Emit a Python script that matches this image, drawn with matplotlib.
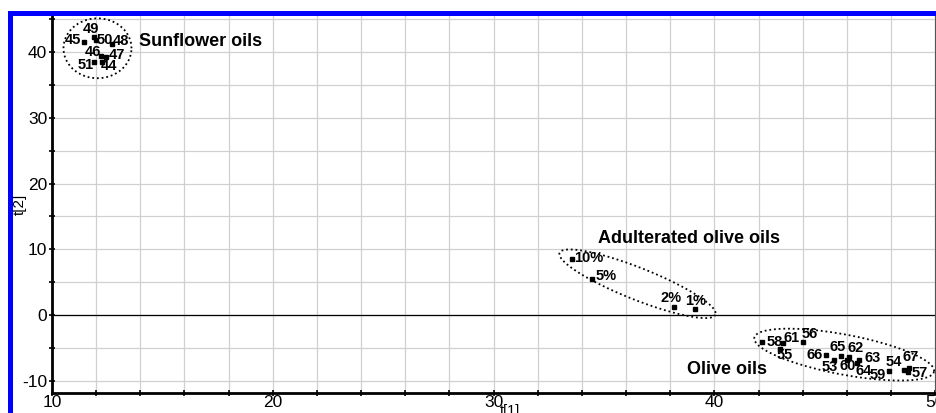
import numpy as np
import matplotlib.pyplot as plt
from matplotlib.ticker import MultipleLocator
from matplotlib.patches import Rectangle

plt.rcParams['font.family'] = ['Liberation Sans', 'DejaVu Sans']
plt.rcParams['axes.unicode_minus'] = False

# ---------------------------------------------
# PCA scores t[1], t[2]
sun_ids = ['49', '45', '50', '48', '46', '47', '51', '44']
sun_t1 = [11.9, 11.45, 12.0, 12.7, 12.2, 12.45, 11.9, 12.26]
sun_t2 = [42.3, 41.5, 41.8, 41.2, 39.4, 39.2, 38.5, 38.5]

adu_ids = ['10%', '5%', '2%', '1%']
adu_t1 = [33.53, 34.48, 38.19, 39.14]
adu_t2 = [8.54, 5.5, 1.24, 0.94]

oli_ids = ['58', '61', '56', '55', '66', '65', '62', '63', '53', '60', '64',
           '59', '54', '67', '57']
oli_t1 = [42.17, 43.12, 44.03, 42.99, 45.07, 45.75, 46.11, 46.56, 45.43,
          46.02, 46.47, 47.92, 48.6, 48.82, 48.78]
oli_t2 = [-4.07, -4.22, -4.07, -5.14, -6.05, -6.2, -6.35, -6.8, -6.8,
          -6.8, -7.4, -8.48, -8.33, -8.02, -8.63]

# label offsets (pixels) for the sample numbers
sun_off = [(-3, 8), (-11, 2), (9, 0), (9, 3), (-8, 4), (11, 2), (-8, -3), (7, -4)]
adu_off = [(17, 1), (14, 3), (-3, 9), (0, 8)]
oli_off = [(12, 0), (8, 5), (6, 8), (4, -6), (-12, 0), (-4, 9), (6, 9), (13, 2),
           (-5, -7), (0, -6), (6, -8), (-11, -4), (-10, 8), (2, 11), (12, -1)]


# ---------------------------------------------
def ellipse(ax, c, u, v):
    """ellipse c + u cos t + v sin t (data coords)"""
    t = np.linspace(0, 2 * np.pi, 200)
    x = c[0] + u[0] * np.cos(t) + v[0] * np.sin(t)
    y = c[1] + u[1] * np.cos(t) + v[1] * np.sin(t)
    ax.plot(x, y, color='black', lw=1.3, ls=(0, (1, 1.6)))


def group(ax, xs, ys, ids, offs):
    ax.plot(xs, ys, 's', color='black', ms=2.3)
    for x, y, s, o in zip(xs, ys, ids, offs):
        ax.annotate(s, (x, y), xytext=o, textcoords='offset pixels',
                    ha='center', va='center', fontsize=10.5,
                    fontweight='bold')


# ============================================
fig = plt.figure(figsize=(9.37, 4.13), dpi=100)
ax = fig.add_axes([0.0555, 0.0484, 0.9425, 0.9126])

ax.set_xlim(10, 50)
ax.set_ylim(-11.9, 45.5)
ax.xaxis.set_major_locator(MultipleLocator(10))
ax.xaxis.set_minor_locator(MultipleLocator(2))
ax.yaxis.set_major_locator(MultipleLocator(10))
ax.yaxis.set_minor_locator(MultipleLocator(5))
ax.grid(which='both', color='#d0d0d0', lw=0.9)
ax.set_axisbelow(True)
ax.axhline(0, color='black', lw=0.9)

ax.tick_params(which='both', direction='inout', length=5, width=1.2,
               labelsize=12.5, pad=1)
ax.tick_params(axis='x', pad=-1)
for s in ['left', 'bottom']:
    ax.spines[s].set_linewidth(2)
ax.spines['top'].set_visible(False)
ax.spines['right'].set_color('#555555')
ax.spines['right'].set_linewidth(0.8)

group(ax, sun_t1, sun_t2, sun_ids, sun_off)
group(ax, adu_t1, adu_t2, adu_ids, adu_off)
group(ax, oli_t1, oli_t2, oli_ids, oli_off)

ellipse(ax, (12.06, 40.6), (1.54, 0), (0, 4.56))
ellipse(ax, (36.52, 4.74), (3.53, -4.71), (-0.267, -2.26))
ellipse(ax, (45.88, -6.05), (4.07, -2.58), (-0.17, -2.99))

ax.text(13.94, 41.7, 'Sunflower oils', fontsize=13, fontweight='bold',
        va='center')
ax.text(34.75, 11.7, 'Adulterated olive oils', fontsize=13,
        fontweight='bold', va='center')
ax.text(38.78, -8.36, 'Olive oils', fontsize=13, fontweight='bold',
        va='center')

ax.set_xlabel('t[1]', fontsize=10.5)
ax.xaxis.set_label_coords(0.518, -0.028)
ax.set_ylabel('t[2]', fontsize=11)
ax.yaxis.set_label_coords(-0.028, 0.5)

# blue frame
fig.add_artist(Rectangle((10.5 / 937, -0.5), 2, 0.5 + 1 - 12.5 / 413,
                         transform=fig.transFigure, fill=False,
                         edgecolor='blue', lw=3.6, clip_on=False))

fig.savefig('out.png', dpi=100)
